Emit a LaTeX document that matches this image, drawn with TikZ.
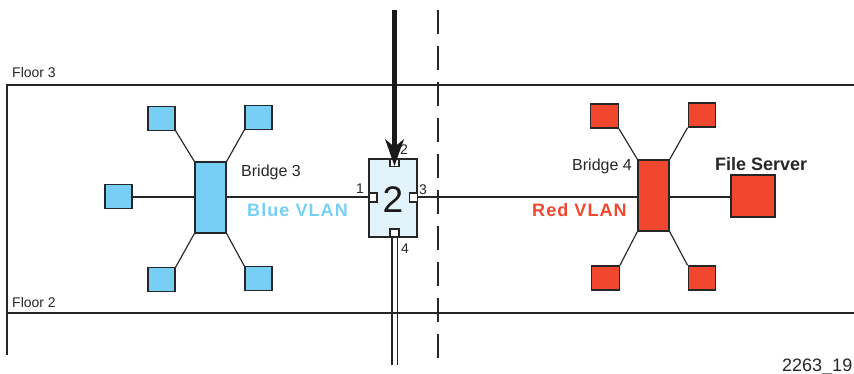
\documentclass[tikz,border=0pt]{standalone}
\usepackage{fontspec}
\setmainfont{Liberation Sans}
\newfontfamily\spacedbold[LetterSpace=6,BoldFont={Liberation Sans Bold}]{Liberation Sans}
\definecolor{vlanblue}{HTML}{77CFF5}
\definecolor{vlanred}{HTML}{F0472E}
\definecolor{switchfill}{HTML}{E2F3FB}
\tikzset{
  x=1pt,y=-1pt,
  wire/.style={draw=black!85,line width=1.15pt},
  floorline/.style={draw=black!85,line width=1.8pt},
  bluebox/.style={draw=black!85,line width=1.4pt,fill=vlanblue,inner sep=0pt},
  redbox/.style={draw=black!85,line width=1.4pt,fill=vlanred,inner sep=0pt},
  portbox/.style={draw=black!85,line width=1.2pt,fill=white,inner sep=0pt},
  lab/.style={inner sep=0pt,text=black!85,anchor=base west,font=\fontsize{16}{18}\selectfont},
  floorlab/.style={lab,font=\fontsize{14}{16}\selectfont},
  smalllab/.style={inner sep=0pt,text=black!85,font=\fontsize{14}{16}\selectfont},
  vlanlab/.style={inner sep=0pt,anchor=base west,font=\spacedbold\bfseries\fontsize{18}{20}\selectfont},
}
\begin{document}
\begin{tikzpicture}
\useasboundingbox (0,0) rectangle (854,374);
% floors
\coordinate (f3l) at (7,85); \coordinate (f3r) at (854,85);
\coordinate (f2l) at (7,313); \coordinate (f2r) at (854,313);
\coordinate (fb) at (7,355);
\draw[floorline] (f3r) -- (f3l) -- (fb);
\draw[floorline] (f2l) -- (f2r);
\node[floorlab] (floor3) at (12,78) {Floor 3};
\node[floorlab] (floor2) at (12,307) {Floor 2};
% dashed separator
\coordinate (dt) at (438,10); \coordinate (db) at (438,360);
\draw[draw=black!85,line width=1.5pt,dash pattern=on 24pt off 12pt] (dt) -- (db);
\coordinate (wy) at (0,197);
% nodes
\node[bluebox,minimum width=31pt,minimum height=71pt] (b3) at (210.5,197.5) {};
\foreach \n/\cx/\cy in {btl/161.5/118.5,btr/258.5/117.5,bl/118.5/196.5,bbl/161.5/279.5,bbr/258.5/278.5}
  \node[bluebox,minimum width=27pt,minimum height=23.5pt] (\n) at (\cx,\cy) {};
\node[redbox,minimum width=31pt,minimum height=71pt] (b4) at (653.5,195.5) {};
\foreach \n/\cx/\cy in {rtl/604.5/116,rtr/702/115,rbl/605.5/278,rbr/702/278}
  \node[redbox,minimum width=27.5pt,minimum height=24pt] (\n) at (\cx,\cy) {};
\node[redbox,minimum width=44pt,minimum height=42pt] (srv) at (753,196) {};
\node[draw=black!85,line width=1.4pt,fill=switchfill,minimum width=48pt,minimum height=78pt,inner sep=0pt] (sw) at (393,198) {};
\node[inner sep=0pt,font=\fontsize{37}{40}\selectfont,text=black!90] (swlab) at (393,200) {2};
\node[portbox,minimum width=9pt,minimum height=6.5pt] (p2) at (394.5,163) {};
\node[portbox,minimum width=8pt,minimum height=9pt] (p1) at (373,197.5) {};
\node[portbox,minimum width=7.5pt,minimum height=9pt] (p3) at (413.5,197.5) {};
\node[portbox,minimum width=9pt,minimum height=8pt] (p4) at (394.5,233) {};
% connectors
\foreach \a/\pa/\b/\pb in {btl/south east/b3/north west,btr/south west/b3/north east,bbl/north east/b3/south west,bbr/north west/b3/south east,
  rtl/south east/b4/north west,rtr/south west/b4/north east,rbl/north east/b4/south west,rbr/north west/b4/south east}
  \draw[wire] (\a.\pa) -- (\b.\pb);
\draw[wire] (bl.east |- wy) -- (b3.west |- wy);
\draw[wire] (b3.east |- wy) -- (sw.west |- wy);
\draw[wire] (p3.east |- wy) -- (b4.west |- wy);
\draw[wire] (b4.east |- wy) -- (srv.west |- wy);
\coordinate (c1) at (392,365); \coordinate (c2) at (397.5,365);
\draw[wire] (c1) -- (c1 |- p4.south);
\draw[wire] (c2) -- (c2 |- p4.south);
% heavy arrow
\coordinate (at) at (394.5,10);
\coordinate (ah) at (394.5,166);
\draw[draw=black!90,line width=4.4pt] (at) -- (394.5,150);
\fill[black!90] (ah) -- (385,139) -- (394.5,147) -- (404,139) -- cycle;
% labels
\node[lab] (br3) at (241,177) {Bridge 3};
\node[lab] (br4) at (572,171) {Bridge 4};
\node[lab,font=\bfseries\fontsize{18}{20}\selectfont] (fs) at (715,171) {File Server};
\node[vlanlab,text=vlanblue] (bv) at (247,217) {Blue VLAN};
\node[vlanlab,text=vlanred] (rv) at (532,217) {Red VLAN};
\node[smalllab] (l1) at (360,188.5) {1};
\node[smalllab] (l2) at (404,150) {2};
\node[smalllab] (l3) at (423,190) {3};
\node[smalllab] (l4) at (405,248.5) {4};
\node[lab,font=\fontsize{18}{20}\selectfont] (code) at (782,371.5) {2263\_19};
\end{tikzpicture}
\end{document}
